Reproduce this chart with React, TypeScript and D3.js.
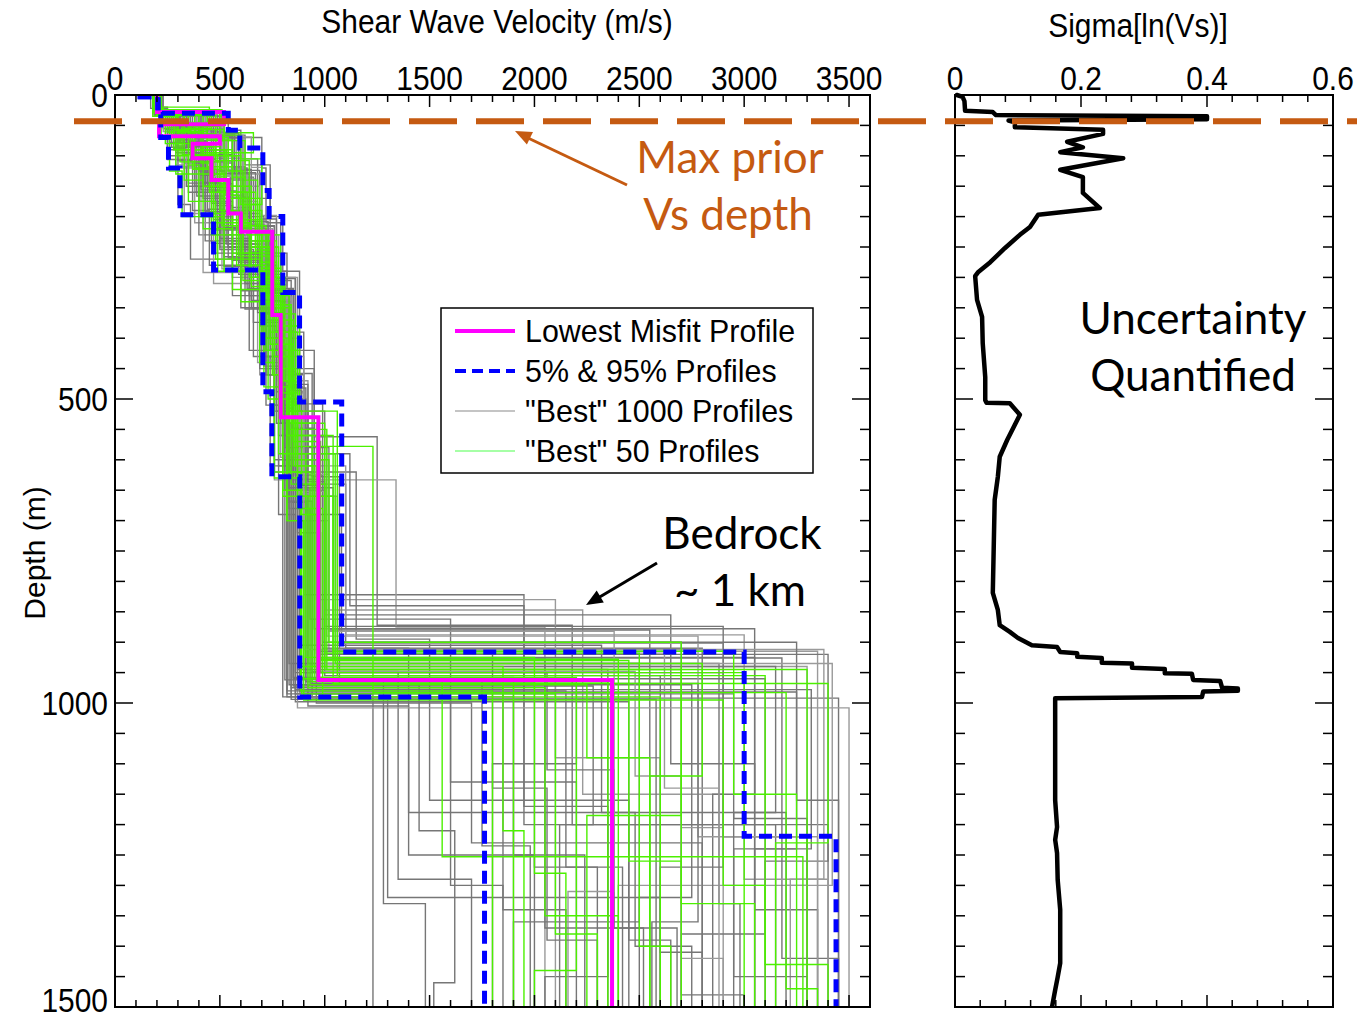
import React from 'react';
import * as d3 from 'd3';

// ---------------- DATA ----------------
const vsTickValues = [0, 500, 1000, 1500, 2000, 2500, 3000, 3500];
const depthTickValues = [0, 500, 1000, 1500];
const sigmaTickValues = [0, 0.2, 0.4, 0.6];
const sigmaTickLabels = ['0', '0.2', '0.4', '0.6'];

// profile format: [v0, d1, v1, d2, v2, ...] (layer velocity, next boundary depth, ...)
const lowestMisfit = [200, 28, 520, 48, 210, 68, 500, 80, 370, 104, 460, 140, 540, 195, 600, 225, 750, 362, 790, 530, 970, 962, 2370];
const profile05 = [120, 3, 205, 32, 218, 70, 255, 120, 310, 197, 470, 288, 705, 488, 748, 628, 881, 990, 1762];
const profile95 = [120, 3, 205, 30, 540, 58, 595, 87, 705, 157, 735, 200, 800, 325, 880, 505, 1081, 916, 3000, 1219, 3438];

const greenProfiles = [
  [190, 25, 330, 55, 420, 95, 520, 170, 610, 260, 760, 430, 850, 610, 960, 930, 2450, 1260, 2700],
  [210, 30, 260, 65, 380, 120, 470, 210, 640, 300, 790, 480, 820, 700, 900, 960, 1900],
  [200, 20, 450, 50, 360, 100, 600, 180, 680, 250, 740, 390, 870, 560, 1040, 915, 2950, 1150, 3250],
  [180, 35, 300, 70, 330, 140, 420, 220, 560, 320, 730, 500, 800, 650, 890, 985, 2100, 1380, 2300],
  [220, 28, 500, 45, 280, 90, 560, 150, 650, 240, 770, 350, 840, 540, 1000, 945, 3300],
  [200, 32, 240, 80, 470, 130, 520, 205, 700, 310, 800, 470, 860, 600, 1020, 900, 2700, 1330, 3050],
  [215, 26, 380, 60, 310, 110, 500, 190, 580, 280, 720, 420, 830, 620, 930, 970, 2250, 1090, 2550],
  [195, 30, 520, 62, 660, 95, 450, 160, 630, 230, 790, 380, 880, 520, 1060, 955, 3100, 1430, 3400],
  [205, 24, 280, 58, 350, 115, 400, 200, 520, 290, 750, 460, 780, 590, 910, 925, 2000, 1280, 2150],
  [190, 30, 420, 70, 540, 125, 610, 215, 720, 330, 830, 510, 870, 680, 990, 990, 2600],
  [210, 22, 230, 50, 300, 100, 350, 175, 480, 270, 690, 440, 760, 630, 890, 940, 1850, 1210, 1950],
  [200, 34, 480, 75, 620, 140, 680, 240, 760, 360, 860, 578, 1230, 983, 3200, 1470, 3350],
  [220, 27, 350, 52, 500, 85, 420, 150, 560, 260, 700, 400, 820, 560, 940, 965, 2350],
  [185, 29, 270, 66, 600, 105, 700, 180, 650, 250, 780, 420, 870, 590, 1050, 935, 2800, 1120, 2550],
  [205, 31, 330, 72, 290, 130, 460, 230, 600, 340, 760, 480, 800, 660, 920, 975, 2050, 1350, 2400],
  [195, 25, 460, 55, 380, 90, 530, 165, 590, 265, 740, 410, 850, 570, 980, 950, 3000],
  [210, 30, 300, 60, 440, 118, 560, 205, 670, 300, 810, 470, 840, 640, 1000, 918, 2500, 1400, 2650],
  [200, 33, 220, 68, 260, 125, 320, 200, 490, 290, 710, 480, 760, 620, 885, 980, 1800],
  [190, 28, 400, 64, 480, 108, 640, 190, 700, 285, 790, 450, 860, 610, 950, 960, 1560, 1253, 3280],
  [215, 26, 290, 57, 520, 100, 580, 170, 690, 275, 770, 390, 830, 550, 1010, 945, 2700, 1185, 2250],
  [205, 30, 350, 62, 410, 112, 470, 195, 610, 305, 780, 500, 820, 700, 900, 995, 2900, 1300, 3100],
  [195, 24, 510, 48, 320, 98, 490, 160, 670, 255, 760, 370, 850, 540, 970, 928, 2400],
  [200, 29, 250, 61, 370, 122, 510, 215, 650, 315, 800, 490, 870, 660, 1040, 968, 3400, 1230, 3150],
  [210, 32, 440, 74, 560, 135, 620, 225, 730, 345, 840, 520, 890, 690, 960, 958, 2200, 1440, 2000],
];

const grayProfiles = [
  [180, 20, 250, 50, 300, 90, 380, 160, 430, 240, 600, 350, 760, 520, 900, 822, 1950, 1200, 3400],
  [230, 35, 520, 70, 700, 120, 720, 210, 790, 300, 860, 450, 950, 640, 1100, 910, 2800],
  [200, 25, 270, 60, 420, 110, 560, 190, 650, 280, 700, 400, 780, 560, 820, 990, 1300, 1320, 2600],
  [210, 30, 400, 65, 480, 130, 600, 230, 720, 340, 840, 480, 880, 700, 1000, 847, 2230, 1150, 2900],
  [170, 22, 230, 55, 260, 100, 300, 180, 360, 270, 640, 420, 760, 600, 850, 960, 3100, 1380, 2700],
  [220, 28, 540, 58, 600, 105, 680, 170, 740, 260, 820, 390, 900, 580, 1020, 880, 2550],
  [190, 33, 330, 80, 460, 140, 520, 220, 640, 330, 780, 470, 830, 650, 920, 1005, 1400, 1250, 2000],
  [205, 26, 360, 63, 300, 120, 450, 200, 560, 300, 740, 440, 800, 610, 880, 940, 3300, 1300, 2400],
  [215, 31, 480, 68, 560, 135, 660, 215, 760, 320, 850, 500, 910, 690, 1080, 900, 2700, 1480, 3000],
  [195, 24, 300, 52, 350, 95, 420, 170, 500, 250, 690, 380, 770, 540, 840, 975, 1850, 1340, 2150],
  [200, 29, 450, 66, 620, 115, 740, 200, 800, 290, 880, 420, 950, 562, 1250, 872, 2180, 1200, 3150],
  [185, 27, 260, 61, 320, 118, 380, 210, 470, 310, 690, 460, 760, 633, 1340, 875, 2050],
  [225, 34, 410, 75, 530, 150, 610, 245, 720, 360, 800, 540, 870, 720, 980, 926, 3180, 1420, 3450],
  [200, 23, 230, 48, 280, 88, 340, 150, 400, 230, 560, 330, 720, 510, 780, 690, 860, 985, 1230],
  [210, 30, 350, 70, 500, 125, 580, 195, 690, 280, 770, 430, 830, 620, 940, 992, 3450],
  [190, 28, 520, 56, 420, 104, 600, 175, 680, 265, 790, 400, 880, 600, 960, 830, 2100, 1090, 2600],
  [220, 32, 280, 64, 400, 125, 470, 205, 590, 295, 730, 460, 810, 650, 900, 950, 2900, 1220, 3300],
  [205, 26, 380, 60, 520, 112, 560, 185, 650, 290, 820, 460, 900, 620, 1150, 895, 1500, 1160, 2450],
  [200, 30, 240, 57, 300, 108, 370, 190, 450, 280, 660, 430, 740, 610, 830, 935, 2500, 1360, 1900],
  [215, 25, 460, 62, 540, 128, 640, 225, 700, 325, 810, 490, 900, 700, 1020, 915, 3350],
  [180, 31, 320, 73, 350, 145, 510, 240, 650, 350, 760, 510, 820, 670, 910, 965, 2000, 1270, 2300],
  [195, 27, 430, 59, 480, 100, 530, 165, 610, 250, 730, 360, 830, 520, 1000, 855, 2650, 1100, 3050],
  [210, 29, 290, 67, 440, 130, 500, 230, 620, 310, 790, 480, 850, 640, 960, 1000, 1700, 1230, 2800],
  [200, 34, 500, 69, 650, 119, 700, 198, 770, 300, 870, 470, 920, 610, 1100, 888, 3000, 1290, 3400],
  [190, 22, 250, 54, 380, 102, 460, 178, 540, 268, 700, 400, 790, 560, 870, 945, 2350, 1450, 2050],
  [220, 30, 340, 65, 470, 125, 550, 215, 680, 315, 800, 455, 860, 625, 990, 910, 1400, 1180, 3200],
  [205, 28, 300, 62, 330, 112, 430, 192, 600, 288, 750, 410, 810, 580, 910, 970, 2750, 1320, 2500],
  [185, 33, 470, 72, 590, 138, 670, 228, 750, 334, 830, 505, 890, 660, 1050, 930, 2100],
  [210, 26, 390, 57, 250, 106, 480, 182, 560, 272, 720, 420, 800, 600, 880, 982, 3250, 1240, 2950],
  [200, 31, 270, 70, 420, 128, 490, 218, 630, 318, 780, 470, 830, 680, 930, 862, 1600, 1130, 2200],
  [215, 29, 510, 64, 570, 122, 650, 208, 730, 305, 840, 480, 900, 650, 1000, 955, 2600, 1410, 2800],
  [195, 25, 230, 60, 290, 115, 330, 195, 420, 292, 680, 440, 760, 620, 840, 990, 1900],
  [205, 32, 420, 66, 500, 118, 620, 212, 700, 312, 810, 478, 870, 632, 970, 920, 3400, 1260, 3100],
  [190, 28, 350, 63, 560, 120, 630, 200, 710, 295, 800, 450, 850, 590, 1120, 840, 1950, 1170, 2350],
  [220, 30, 310, 58, 360, 110, 440, 188, 520, 282, 710, 430, 780, 610, 860, 998, 2450, 1390, 2650],
  [200, 27, 440, 61, 530, 126, 590, 214, 680, 308, 790, 472, 880, 660, 1060, 902, 2900, 1205, 2700],
  [210, 31, 260, 69, 410, 132, 480, 222, 600, 322, 770, 488, 830, 668, 940, 948, 1350, 1290, 1700],
  [195, 24, 370, 55, 460, 98, 560, 168, 640, 258, 760, 388, 850, 548, 950, 878, 3050, 1340, 3350],
  [205, 33, 490, 70, 610, 124, 690, 204, 770, 302, 860, 458, 940, 628, 1070, 968, 2200, 1100, 1800],
  [185, 29, 280, 64, 340, 116, 410, 196, 510, 286, 720, 436, 790, 596, 870, 1008, 3500],
  [200, 30, 330, 80, 450, 160, 600, 280, 760, 480, 880, 905, 2320, 1180, 2480, 1400, 2750],
  [210, 28, 410, 90, 520, 190, 650, 300, 800, 520, 920, 935, 2880, 1330, 2980],
  [190, 35, 290, 95, 400, 175, 560, 290, 720, 460, 830, 970, 1450, 1210, 1620, 1460, 1520],
  [220, 25, 480, 75, 580, 150, 690, 260, 790, 430, 900, 912, 3380, 1290, 3220],
  [200, 32, 360, 85, 470, 170, 590, 275, 750, 450, 860, 950, 2060, 1110, 2380, 1370, 2520],
  [205, 29, 440, 70, 560, 140, 650, 250, 770, 420, 880, 600, 990, 925, 3050, 1150, 2850],
  [195, 33, 250, 90, 350, 160, 480, 260, 690, 450, 800, 990, 1600, 1300, 1850],
  [215, 27, 520, 66, 610, 130, 700, 230, 780, 390, 870, 560, 1010, 890, 2780, 1220, 3350],
  [200, 30, 310, 78, 430, 150, 540, 250, 700, 430, 820, 980, 2150, 1270, 2420],
  [185, 26, 380, 72, 500, 138, 610, 240, 740, 400, 850, 620, 950, 940, 3150, 1180, 2950, 1450, 3300],
  [210, 34, 270, 86, 390, 166, 520, 266, 710, 446, 810, 962, 1750, 1235, 1980],
  [200, 28, 450, 68, 540, 126, 630, 220, 750, 360, 860, 540, 960, 918, 2620, 1140, 2880],
  [195, 31, 340, 82, 460, 158, 580, 262, 740, 418, 830, 646, 930, 968, 2780, 1360, 2560],
  [220, 27, 500, 63, 590, 128, 670, 216, 760, 322, 860, 508, 990, 900, 3250, 1160, 3450],
  [205, 30, 300, 74, 420, 144, 500, 236, 650, 338, 790, 492, 850, 958, 1900, 1250, 2240],
  [200, 26, 420, 64, 520, 122, 600, 212, 700, 316, 820, 466, 890, 624, 1020, 882, 2380, 1310, 2160],
  [190, 32, 260, 78, 380, 150, 460, 244, 620, 352, 770, 520, 820, 985, 2950, 1190, 3300],
  [215, 29, 460, 66, 570, 130, 640, 226, 740, 326, 840, 482, 910, 646, 1040, 928, 2050, 1370, 2680],
  [200, 31, 330, 80, 450, 152, 540, 250, 690, 370, 800, 530, 860, 978, 3320, 1240, 3050],
  [210, 28, 390, 70, 480, 134, 580, 226, 710, 334, 830, 498, 880, 656, 980, 948, 2480, 1120, 2700, 1420, 2900],
  [195, 33, 290, 84, 410, 156, 500, 254, 660, 374, 790, 540, 840, 994, 2580],
  [205, 27, 470, 67, 560, 124, 650, 214, 730, 318, 850, 476, 920, 636, 1000, 874, 2900, 1270, 2600],
  [200, 30, 350, 76, 440, 146, 560, 240, 680, 350, 800, 500, 870, 960, 1280, 1330, 1480],
  [215, 29, 430, 71, 530, 132, 630, 222, 720, 332, 840, 488, 900, 652, 1000, 935, 3420, 1300, 3200],
  [190, 31, 310, 79, 430, 151, 530, 245, 680, 358, 790, 515, 850, 972, 2280, 1200, 2120],
  [205, 28, 400, 69, 510, 129, 610, 219, 720, 326, 830, 486, 890, 642, 970, 915, 1800, 1140, 2060, 1390, 2300],
];

// sigma[ln(Vs)] profile: [depth (m), sigma]
const sigmaProfile = [
  [0, 0.003], [3, 0.012], [10, 0.015], [26, 0.016], [28, 0.06], [33, 0.065], [35, 0.4], [40, 0.4], [42, 0.085],
  [45, 0.095], [53, 0.095], [57, 0.235], [64, 0.235], [77, 0.178], [86, 0.203], [94, 0.167], [104, 0.267],
  [123, 0.167], [135, 0.203], [161, 0.203], [186, 0.23], [197, 0.132], [217, 0.119], [230, 0.103], [252, 0.079],
  [275, 0.056], [291, 0.037], [298, 0.032], [337, 0.035], [365, 0.043], [408, 0.044], [464, 0.048], [502, 0.048],
  [506, 0.05], [507, 0.087], [526, 0.103], [567, 0.083], [595, 0.071], [628, 0.068], [666, 0.063], [819, 0.06],
  [847, 0.068], [872, 0.071], [883, 0.087], [893, 0.1], [905, 0.122], [908, 0.162], [916, 0.167], [918, 0.194],
  [924, 0.194], [926, 0.233], [934, 0.233], [935, 0.281], [942, 0.281], [944, 0.333], [951, 0.333], [952, 0.376],
  [962, 0.378], [964, 0.421], [975, 0.424], [976, 0.449], [980, 0.449], [981, 0.394], [990, 0.392], [992, 0.159],
  [1160, 0.159], [1204, 0.162], [1225, 0.159], [1247, 0.162], [1291, 0.163], [1340, 0.167], [1428, 0.167],
  [1451, 0.163], [1472, 0.159], [1500, 0.154],
];

const maxPriorDepth = 43;

// ---------------- SCALES ----------------
const W = 1357, H = 1020;
const xV = d3.scaleLinear().domain([0, 3600]).range([115, 870]);
const yD = d3.scaleLinear().domain([0, 1500]).range([95, 1007]);
const xS = d3.scaleLinear().domain([0, 0.6]).range([955, 1333]);

const ARIAL = "'Liberation Sans', Arial, sans-serif";
const CALIBRI = "Lato, 'Open Sans', sans-serif";
const ORANGE = '#c55a11';

function stepPoints(p: number[]): [number, number][] {
  const pts: [number, number][] = [];
  let v = p[0];
  pts.push([v, 0]);
  for (let i = 1; i < p.length; i += 2) {
    const dn = p[i];
    const vn = p[i + 1];
    pts.push([v, dn]);
    pts.push([vn, dn]);
    v = vn;
  }
  pts.push([v, 1500]);
  return pts;
}

const profileLine = d3.line<[number, number]>().x((d) => xV(d[0])).y((d) => yD(d[1]));
const sigmaLine = d3.line<number[]>().x((d) => xS(d[1])).y((d) => yD(d[0]));

function Txt(props: any) {
  const { x, y, k = 1, anchor = 'middle', size, family = ARIAL, fill = '#000', rotate, children } = props;
  const tr = `translate(${x},${y})${rotate ? ` rotate(${rotate})` : ''} scale(${k},1)`;
  return (
    <text transform={tr} textAnchor={anchor} fontSize={size} fontFamily={family} fill={fill}>
      {children}
    </text>
  );
}

function frameTicks(x0: number, x1: number, y0: number, y1: number, xVals: number[], xMajor: (v: number) => boolean, xs: (v: number) => number) {
  const els: any[] = [];
  xVals.forEach((v, i) => {
    const x = xs(v);
    const big = xMajor(v);
    const len = big ? 12 : 7;
    els.push(<line key={`t${i}`} x1={x} x2={x} y1={y0} y2={y0 + len} stroke="#000" strokeWidth={1.5} />);
    els.push(<line key={`b${i}`} x1={x} x2={x} y1={y1} y2={y1 - len} stroke="#000" strokeWidth={1.5} />);
  });
  d3.range(0, 1501, 50).forEach((d, i) => {
    const y = yD(d);
    const big = d % 500 === 0;
    const len = big ? 18 : 10;
    els.push(<line key={`l${i}`} x1={x0} x2={x0 + len} y1={y} y2={y} stroke="#000" strokeWidth={1.5} />);
    els.push(<line key={`r${i}`} x1={x1} x2={x1 - len} y1={y} y2={y} stroke="#000" strokeWidth={1.5} />);
  });
  return els;
}

function arrowHead(x1: number, y1: number, x2: number, y2: number, size: number) {
  const a = Math.atan2(y2 - y1, x2 - x1);
  const p1 = [x2 - size * Math.cos(a - 0.4), y2 - size * Math.sin(a - 0.4)];
  const p2 = [x2 - size * Math.cos(a + 0.4), y2 - size * Math.sin(a + 0.4)];
  return `${x2},${y2} ${p1[0]},${p1[1]} ${p2[0]},${p2[1]}`;
}

export default function App() {
  const L = { x0: xV(0), x1: xV(3600), y0: yD(0), y1: yD(1500) };
  const R = { x0: xS(0), x1: xS(0.6), y0: yD(0), y1: yD(1500) };
  const vMinor = d3.range(0, 3601, 100);
  const sMinor = d3.range(0, 16).map((i) => i * 0.04);

  return (
    <svg width={W} height={H} style={{ position: 'absolute', left: 0, top: 0, background: '#fff' }}>
      <defs>
        <clipPath id="clipL">
          <rect x={L.x0} y={L.y0} width={L.x1 - L.x0} height={L.y1 - L.y0} />
        </clipPath>
        <clipPath id="clipR">
          <rect x={R.x0} y={R.y0 - 3} width={R.x1 - R.x0} height={R.y1 - R.y0 + 3} />
        </clipPath>
      </defs>
      <rect x={0} y={0} width={W} height={H} fill="#fff" />

      {/* Left panel profiles */}
      <g clipPath="url(#clipL)" fill="none">
        {grayProfiles.map((p, i) => (
          <path key={`g${i}`} d={profileLine(stepPoints(p)) || ''} stroke={i % 4 === 3 ? '#9a9a9a' : '#767676'} strokeWidth={1.4} />
        ))}
        {greenProfiles.map((p, i) => (
          <path key={`n${i}`} d={profileLine(stepPoints(p)) || ''} stroke="#4cf000" strokeWidth={1.4} />
        ))}
        <path d={profileLine(stepPoints(lowestMisfit)) || ''} stroke="#ff00ff" strokeWidth={4} />
        <path d={profileLine(stepPoints(profile05)) || ''} stroke="#0000ff" strokeWidth={5} strokeDasharray="13 7" />
        <path d={profileLine(stepPoints(profile95)) || ''} stroke="#0000ff" strokeWidth={5} strokeDasharray="13 7" />
      </g>

      {/* Left frame */}
      <rect x={L.x0} y={L.y0} width={L.x1 - L.x0} height={L.y1 - L.y0} fill="none" stroke="#000" strokeWidth={2} />
      {frameTicks(L.x0, L.x1, L.y0, L.y1, vMinor, (v) => v % 500 === 0, xV)}

      {/* Left axis labels */}
      {vsTickValues.map((v) => (
        <Txt key={`vx${v}`} x={xV(v)} y={90} size={34} k={0.88}>{String(v)}</Txt>
      ))}
      {depthTickValues.map((d) => (
        <Txt key={`dy${d}`} x={108} y={Math.min(yD(d) + 12, 1012)} size={34} k={0.88} anchor="end">{String(d)}</Txt>
      ))}
      <Txt x={497} y={33} size={34} k={0.88}>Shear Wave Velocity (m/s)</Txt>
      <Txt x={45} y={553} size={30} k={1} rotate={-90}>Depth (m)</Txt>

      {/* Legend */}
      <g>
        <rect x={441} y={308} width={372} height={165} fill="#fff" stroke="#000" strokeWidth={1.5} />
        <line x1={455} x2={515} y1={331} y2={331} stroke="#ff00ff" strokeWidth={4} />
        <line x1={455} x2={515} y1={371} y2={371} stroke="#0000ff" strokeWidth={4} strokeDasharray="11 6" />
        <line x1={455} x2={515} y1={411} y2={411} stroke="#8a8a8a" strokeWidth={1.2} />
        <line x1={455} x2={515} y1={451} y2={451} stroke="#88ff88" strokeWidth={1.5} />
        <Txt x={525} y={342} size={32} k={0.95} anchor="start">Lowest Misfit Profile</Txt>
        <Txt x={525} y={382} size={32} k={0.95} anchor="start">5% &amp; 95% Profiles</Txt>
        <Txt x={525} y={422} size={32} k={0.95} anchor="start">"Best" 1000 Profiles</Txt>
        <Txt x={525} y={462} size={32} k={0.95} anchor="start">"Best" 50 Profiles</Txt>
      </g>

      {/* Right panel */}
      <g clipPath="url(#clipR)">
        <path d={sigmaLine(sigmaProfile) || ''} fill="none" stroke="#000" strokeWidth={4.5} strokeLinejoin="round" strokeLinecap="round" />
      </g>
      <rect x={R.x0} y={R.y0} width={R.x1 - R.x0} height={R.y1 - R.y0} fill="none" stroke="#000" strokeWidth={2} />
      {frameTicks(R.x0, R.x1, R.y0, R.y1, sMinor, (v) => Math.abs(v / 0.2 - Math.round(v / 0.2)) < 1e-6, xS)}
      {sigmaTickValues.map((v, i) => (
        <Txt key={`sx${i}`} x={xS(v)} y={90} size={34} k={0.88}>{sigmaTickLabels[i]}</Txt>
      ))}
      <Txt x={1138} y={37} size={34} k={0.88}>Sigma[ln(Vs)]</Txt>

      {/* Max prior Vs depth */}
      <line x1={74} x2={W} y1={yD(maxPriorDepth)} y2={yD(maxPriorDepth)} stroke={ORANGE} strokeWidth={6} strokeDasharray="48 19" />
      <line x1={627} y1={185} x2={528} y2={138} stroke={ORANGE} strokeWidth={3} />
      <polygon points={arrowHead(627, 185, 515, 131, 18)} fill={ORANGE} />
      <Txt x={730} y={173} size={44} family={CALIBRI} fill={ORANGE}>Max prior</Txt>
      <Txt x={728} y={230} size={44} family={CALIBRI} fill={ORANGE}>Vs depth</Txt>

      {/* Bedrock annotation */}
      <Txt x={742} y={549} size={44} family={CALIBRI}>Bedrock</Txt>
      <Txt x={740} y={606} size={44} family={CALIBRI}>~ 1 km</Txt>
      <line x1={657} y1={563} x2={598} y2={598} stroke="#000" strokeWidth={3} />
      <polygon points={arrowHead(657, 563, 586, 605, 18)} fill="#000" />

      {/* Uncertainty */}
      <Txt x={1193} y={334} size={44} family={CALIBRI}>Uncertainty</Txt>
      <Txt x={1193} y={391} size={44} family={CALIBRI}>Quantified</Txt>
    </svg>
  );
}
